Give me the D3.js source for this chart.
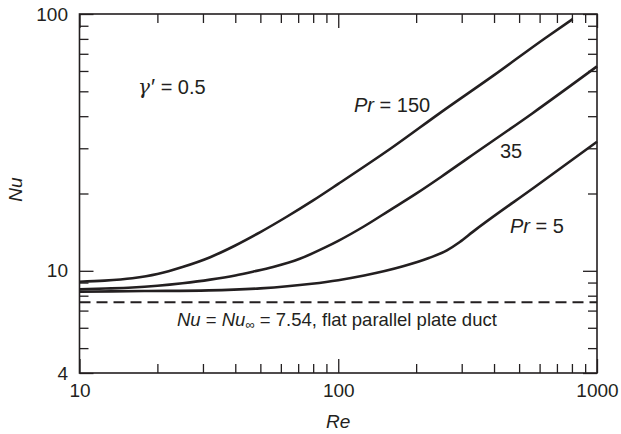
<!DOCTYPE html>
<html><head><meta charset="utf-8">
<script src="https://cdn.jsdelivr.net/npm/d3@7"></script>
<style>
html,body{margin:0;padding:0;background:#fff;}
text{font-family:"Liberation Sans",Arial,sans-serif;fill:#231f20;}
</style></head>
<body>
<svg id="chart" width="621" height="434"></svg>
<script>
// ---- data ----
const re150 = [10, 12.5, 16, 20, 25, 32, 40, 50, 63, 80, 100, 160, 250, 400, 630, 805];
const nu150 = [9.07, 9.16, 9.36, 9.72, 10.35, 11.3, 12.55, 14.15, 16.2, 18.8, 21.8, 30.0, 41.5, 57.8, 80.5, 95.5];
const re35 = [10, 12.6, 16, 20, 25, 32, 40, 47, 56, 71, 89, 100, 126, 158, 200, 251, 316, 562, 1000];
const nu35 = [8.47, 8.53, 8.61, 8.75, 8.95, 9.24, 9.59, 9.93, 10.35, 11.14, 12.33, 13.08, 14.91, 17.2, 19.97, 23.3, 27.4, 41.0, 62.5];
const re5 = [10, 17.8, 31.6, 50, 79, 100, 126, 178, 224, 263, 295, 331, 575, 1000];
const nu5 = [8.29, 8.34, 8.39, 8.545, 8.905, 9.195, 9.585, 10.41, 11.21, 12.02, 12.95, 14.18, 21.2, 31.8];
const nuInf = 7.54;
const xMajor = [10, 100, 1000];
const xMinor = [20, 30, 40, 50, 60, 70, 80, 90, 200, 300, 400, 500, 600, 700, 800, 900];
const yMajor = [4, 10, 100];
const yMinor = [5, 6, 7, 8, 9, 20, 30, 40, 50, 60, 70, 80, 90];

// ---- layout ----
const W = 621, H = 434;
const m = {left: 79.5, right: 24, top: 14, bottom: 61};
const iw = W - m.left - m.right, ih = H - m.top - m.bottom;
const ink = "#231f20";

const svg = d3.select("#chart");
const g = svg.append("g").attr("transform", `translate(${m.left},${m.top})`);

const x = d3.scaleLog().domain([10, 1000]).range([0, iw]);
const y = d3.scaleLog().domain([4, 100]).range([ih, 0]);

function styleAxis(sel) {
  sel.selectAll("path.domain").remove();
  sel.selectAll("line").attr("stroke", ink).attr("stroke-width", 1.3);
  sel.selectAll("text").attr("font-size", 19).attr("fill", ink)
     .attr("font-family", "Liberation Sans, Arial, sans-serif");
}

// bottom
g.append("g").attr("transform", `translate(0,${ih})`)
  .call(d3.axisBottom(x).tickValues(xMajor).tickSize(-14).tickPadding(11).tickFormat(d3.format("d")))
  .call(styleAxis);
g.append("g").attr("transform", `translate(0,${ih})`)
  .call(d3.axisBottom(x).tickValues(xMinor).tickSize(-9).tickFormat(""))
  .call(styleAxis);
// top
g.append("g")
  .call(d3.axisTop(x).tickValues(xMajor).tickSize(-14).tickFormat(""))
  .call(styleAxis);
g.append("g")
  .call(d3.axisTop(x).tickValues(xMinor).tickSize(-9).tickFormat(""))
  .call(styleAxis);
// left
g.append("g")
  .call(d3.axisLeft(y).tickValues(yMajor).tickSize(-14).tickPadding(11.5).tickFormat(d3.format("d")))
  .call(styleAxis);
g.append("g")
  .call(d3.axisLeft(y).tickValues(yMinor).tickSize(-9).tickFormat(""))
  .call(styleAxis);
// right
g.append("g").attr("transform", `translate(${iw},0)`)
  .call(d3.axisRight(y).tickValues(yMajor).tickSize(-14).tickFormat(""))
  .call(styleAxis);
g.append("g").attr("transform", `translate(${iw},0)`)
  .call(d3.axisRight(y).tickValues(yMinor).tickSize(-9).tickFormat(""))
  .call(styleAxis);

// frame
g.append("rect").attr("x", 0).attr("y", 0).attr("width", iw).attr("height", ih)
  .attr("fill", "none").attr("stroke", ink).attr("stroke-width", 1.6);

// dashed asymptote
g.append("line")
  .attr("x1", x(10)).attr("x2", x(1000))
  .attr("y1", y(nuInf)).attr("y2", y(nuInf))
  .attr("stroke", ink).attr("stroke-width", 2).attr("stroke-dasharray", "11,6");

// curves
const line = d3.line().x(d => x(d[0])).y(d => y(d[1])).curve(d3.curveMonotoneX);
[[re150, nu150], [re35, nu35], [re5, nu5]].forEach(([rs, ns]) => {
  g.append("path").datum(rs.map((r, i) => [r, ns[i]]))
    .attr("d", line).attr("fill", "none").attr("stroke", ink)
    .attr("stroke-width", 2.6).attr("stroke-linejoin", "round");
});

// annotations
function label(px, py, parts, size) {
  const t = svg.append("text").attr("x", px).attr("y", py).attr("font-size", size);
  parts.forEach(p => {
    const s = t.append("tspan").text(p.t);
    if (p.i) s.attr("font-style", "italic");
    if (p.f) s.attr("font-family", p.f);
    if (p.s) s.attr("font-size", p.s);
    if (p.dx) s.attr("dx", p.dx);
    if (p.sub) s.attr("font-size", size * 0.7).attr("baseline-shift", "-25%");
  });
  return t;
}
label(138, 93.5, [{t: "\u03b3", i: true, f: "DejaVu Serif, serif", s: 20}, {t: "\u2032", s: 22, dx: 1}, {t: " = 0.5"}], 20);
label(354, 112, [{t: "Pr", i: true}, {t: " = 150"}], 20);
label(500, 158, [{t: "35"}], 20);
label(510, 233, [{t: "Pr", i: true}, {t: " = 5"}], 20);
label(177, 326, [{t: "Nu", i: true}, {t: " = "}, {t: "Nu", i: true}, {t: "\u221e", sub: true}, {t: " = 7.54, flat parallel plate duct"}], 18.5);

// axis titles
svg.append("text").attr("x", m.left + iw / 2).attr("y", 428).attr("text-anchor", "middle")
  .attr("font-size", 19).attr("font-style", "italic").text("Re");
svg.append("text").attr("transform", `translate(22,${m.top + ih / 2 - 4}) rotate(-90)`)
  .attr("text-anchor", "middle").attr("font-size", 19).attr("font-style", "italic").text("Nu");
</script>
</body></html>
